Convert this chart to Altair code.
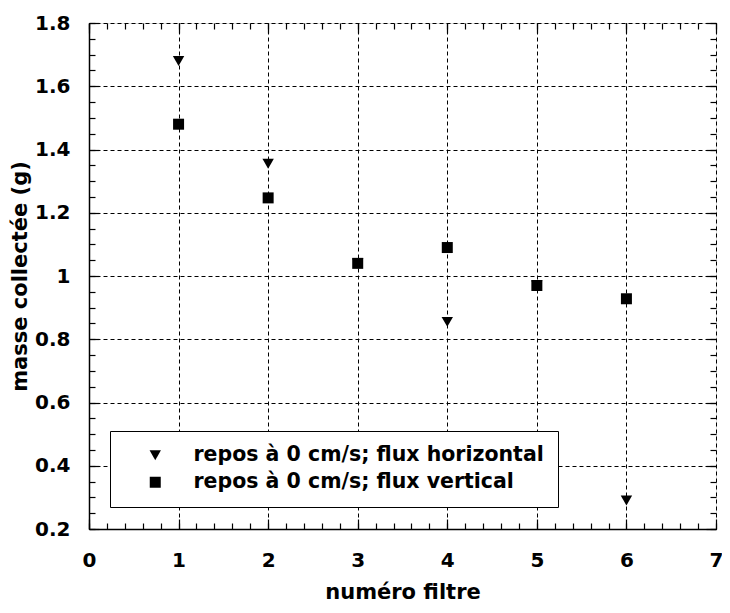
import altair as alt
import pandas as pd
import numpy as np

# ---- data ----
filtre = [1, 2, 3, 4, 5, 6]
horizontal = [1.68, 1.355, 1.04, 0.855, 0.97, 0.29]
vertical = [1.48, 1.247, 1.04, 1.09, 0.97, 0.928]
series_names = ["repos à 0 cm/s; flux horizontal", "repos à 0 cm/s; flux vertical"]

x_major = [0, 1, 2, 3, 4, 5, 6, 7]
x_minor = [round(v, 2) for v in np.arange(0, 7.0001, 0.2)]
y_major = [0.2, 0.4, 0.6, 0.8, 1.0, 1.2, 1.4, 1.6, 1.8]
y_minor = [round(v, 2) for v in np.arange(0.2, 1.8001, 0.05)]

df = pd.DataFrame({
    "filtre": filtre * 2,
    "masse": horizontal + vertical,
    "serie": [series_names[0]] * len(filtre) + [series_names[1]] * len(filtre),
})

FONT = "DejaVu Sans"
xs = alt.Scale(domain=[0, 7], nice=False, zero=False)
ys = alt.Scale(domain=[0.2, 1.8], nice=False, zero=False)

leg = alt.Legend(orient="none", legendX=21, legendY=408, title=None,
                 strokeColor="black", fillColor="white", padding=14,
                 symbolOffset=21, labelOffset=28, rowPadding=6,
                 labelFont=FONT, labelFontSize=20.5, labelFontWeight="bold",
                 labelColor="black", symbolFillColor="black",
                 symbolStrokeColor="black", labelLimit=600)

main = alt.Chart(df).mark_point(filled=True, opacity=1, color="black").encode(
    x=alt.X("filtre:Q", scale=xs, axis=alt.Axis(
        orient="bottom", values=x_major, title="numéro filtre", grid=True,
        gridColor="black", gridDash=[4, 3], gridWidth=1, gridOpacity=1,
        ticks=False, tickSize=0, domain=True, domainColor="black", domainWidth=1.5,
        labelFont=FONT, labelFontSize=20, labelFontWeight="bold", labelColor="black",
        labelPadding=21, titleFont=FONT, titleFontSize=21, titleFontWeight="bold",
        titleColor="black", titlePadding=11, format="d", labelFlush=False)),
    y=alt.Y("masse:Q", scale=ys, axis=alt.Axis(
        orient="left", values=y_major, title="masse collectée (g)", grid=True,
        gridColor="black", gridDash=[4, 3], gridWidth=1, gridOpacity=1,
        ticks=False, tickSize=0, domain=True, domainColor="black", domainWidth=1.5,
        labelFont=FONT, labelFontSize=20, labelFontWeight="bold", labelColor="black",
        labelPadding=19, titleFont=FONT, titleFontSize=21, titleFontWeight="bold",
        titleColor="black", titlePadding=4, format="~g", labelFlush=False)),
    shape=alt.Shape("serie:N", scale=alt.Scale(domain=series_names, range=["triangle-down", "square"]),
                    legend=leg),
    size=alt.Size("serie:N", scale=alt.Scale(domain=series_names, range=[130, 121]), legend=leg),
)


def tick_layer(xorient, yorient, xvals, yvals, length):
    return alt.Chart(df).mark_point(opacity=0).encode(
        x=alt.X("filtre:Q", scale=xs, axis=alt.Axis(
            orient=xorient, values=xvals, offset=-length, tickSize=length, ticks=True,
            tickColor="black", tickWidth=1.2, labels=False, domain=False, grid=False, title=None)),
        y=alt.Y("masse:Q", scale=ys, axis=alt.Axis(
            orient=yorient, values=yvals, offset=-length, tickSize=length, ticks=True,
            tickColor="black", tickWidth=1.2, labels=False, domain=False, grid=False, title=None)),
    )


chart = alt.layer(
    tick_layer("bottom", "left", x_major, y_major, 10),
    tick_layer("bottom", "left", x_minor, y_minor, 6),
    tick_layer("top", "right", x_major, y_major, 10),
    tick_layer("top", "right", x_minor, y_minor, 6),
    main,
).resolve_axis(x="independent", y="independent").properties(
    width=627, height=506,
    autosize=alt.AutoSizeParams(type="none"),
    padding={"left": 81, "top": 15, "right": 6, "bottom": 74},
).configure_view(stroke="black", strokeWidth=1.5).configure(background="white")

chart.save("out.html", embed_options={"renderer": "svg", "actions": False})
